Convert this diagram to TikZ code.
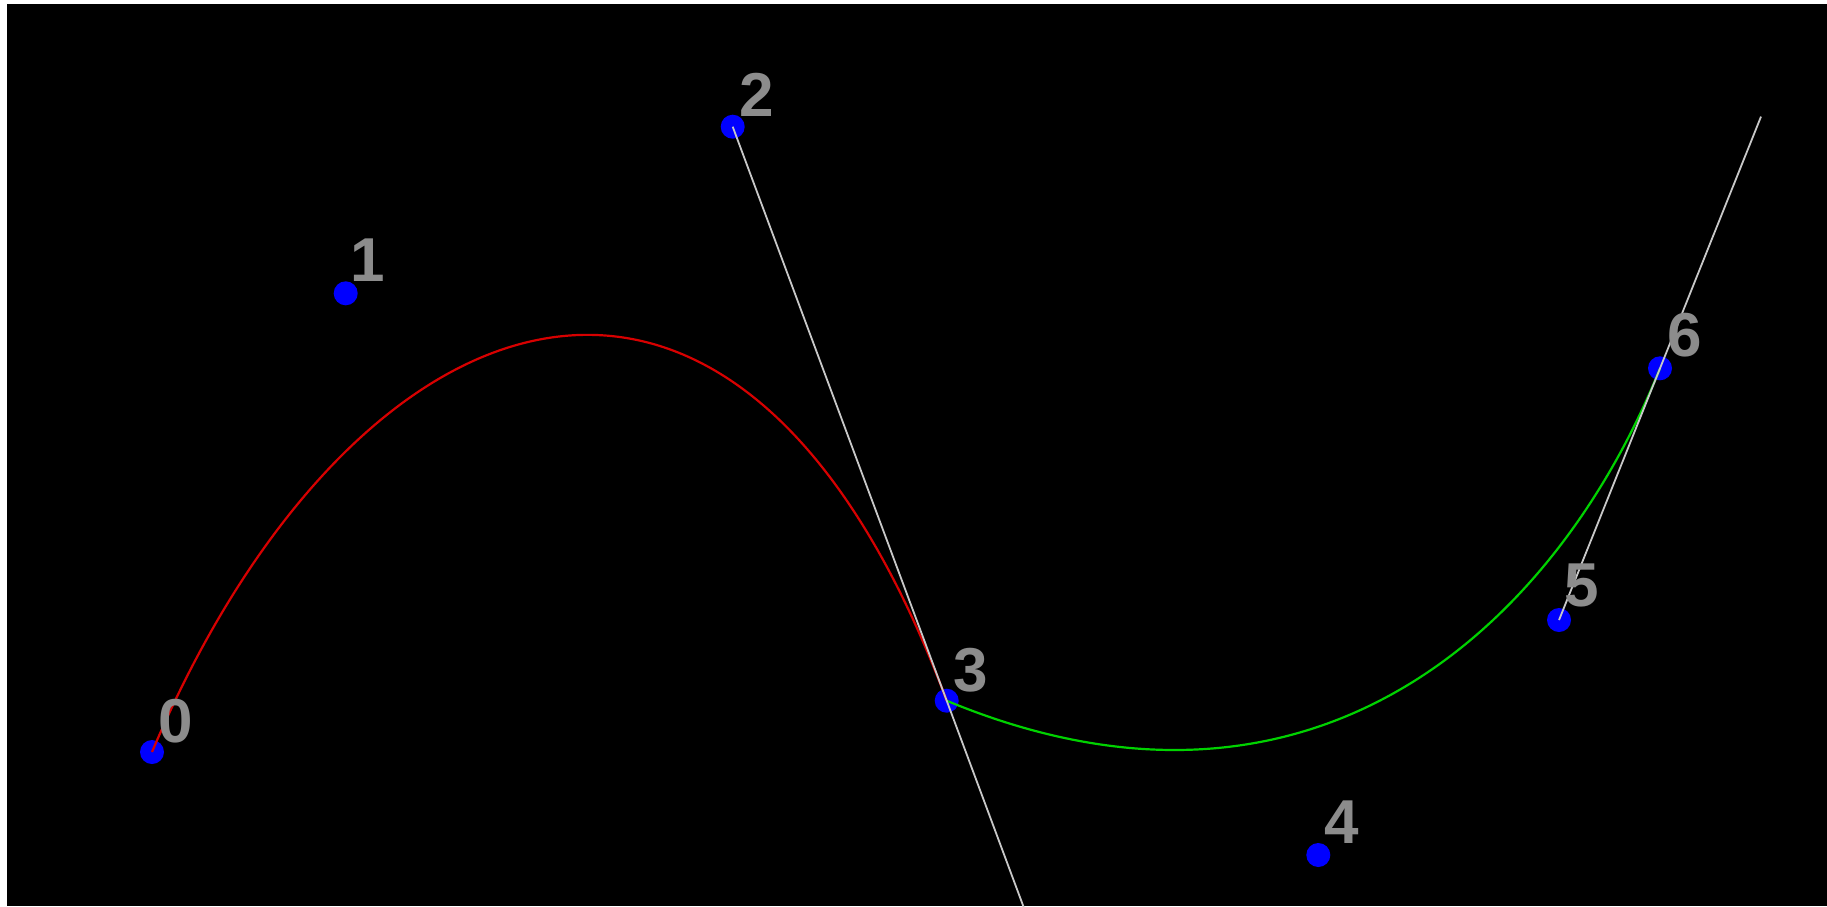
\documentclass[tikz,border=0pt]{standalone}
\usepackage{fontspec}
\setmainfont{Liberation Sans}
\begin{document}
\begin{tikzpicture}[x=1pt,y=-1pt,
  ctrlpt/.style={circle,fill={rgb,255:red,0;green,0;blue,255},draw=none,minimum size=24pt,inner sep=0pt},
  ptlabel/.style={text={rgb,255:red,140;green,140;blue,140},inner sep=0pt,font=\bfseries\fontsize{62}{62}\selectfont},
  redcurve/.style={draw={rgb,255:red,215;green,0;blue,0},line width=2.2pt},
  greencurve/.style={draw={rgb,255:red,0;green,210;blue,0},line width=2.2pt},
  tangent/.style={draw={rgb,255:red,200;green,200;blue,200},line width=1.8pt}]
\useasboundingbox (0,0) rectangle (1827,906);
\fill[white] (0,0) rectangle (1827,906);
\fill[black] (7,4) rectangle (1827,906);
\begin{scope}
\clip (7,4) rectangle (1827,906);
% control points
\node[ctrlpt] (p0) at (152,752) {};
\node[ctrlpt] (p1) at (345.7,293.3) {};
\node[ctrlpt] (p2) at (732.7,126.7) {};
\node[ctrlpt] (p3) at (946.7,700.7) {};
\node[ctrlpt] (p4) at (1318.3,855) {};
\node[ctrlpt] (p5) at (1559,620) {};
\node[ctrlpt] (p6) at (1660,368.3) {};
\coordinate (t3) at (1160.7,1274.7);
\coordinate (t6) at (1761,116.6);
% curves
\draw[redcurve] (p0.center) .. controls (p1.center) and (p2.center) .. (p3.center);
\draw[greencurve] (p3.center) .. controls (p4.center) and (p5.center) .. (p6.center);
% tangents
\draw[tangent] (p2.center) -- (t3);
\draw[tangent] (p5.center) -- (t6);
\end{scope}
% labels
\node[ptlabel] (l0) at (176,720.7) {0};
\node[ptlabel] (l1) at (368,260) {1};
\node[ptlabel] (l2) at (756.7,95) {2};
\node[ptlabel] (l3) at (970.7,670) {3};
\node[ptlabel] (l4) at (1342,822) {4};
\node[ptlabel] (l5) at (1582,585) {5};
\node[ptlabel] (l6) at (1685,335) {6};
\end{tikzpicture}
\end{document}
